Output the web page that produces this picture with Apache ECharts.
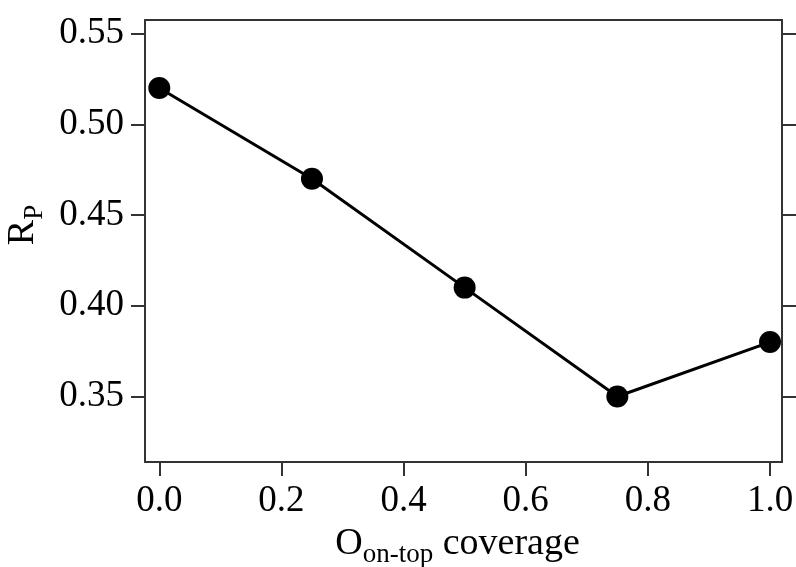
<!DOCTYPE html>
<html>
<head>
<meta charset="utf-8">
<script src="https://cdn.jsdelivr.net/npm/echarts@6/dist/echarts.min.js"></script>
<style>
  html, body { margin: 0; padding: 0; background: #fff; }
  #chart { width: 796px; height: 567px; }
</style>
</head>
<body>
<div id="chart"></div>
<script>
// O on-top coverage vs R_P
const coverage = [0.0, 0.25, 0.5, 0.75, 1.0];
const rpValues = [0.52, 0.47, 0.41, 0.35, 0.38];
const xTicks = [0.0, 0.2, 0.4, 0.6, 0.8, 1.0];
const yTicks = [0.35, 0.40, 0.45, 0.50, 0.55];

const FONT = '"Liberation Serif", "Times New Roman", serif';
const AXIS_COLOR = '#333';

const chart = echarts.init(document.getElementById('chart'));

const frameAxis = {
  axisLine: { show: true, onZero: false, lineStyle: { color: AXIS_COLOR, width: 2 } },
  splitLine: { show: false }
};

const nameRich = {
  m: { fontFamily: FONT, fontSize: 38, color: '#000', verticalAlign: 'bottom', lineHeight: 44, padding: [0, 0, 6, 0] },
  s: { fontFamily: FONT, fontSize: 27, color: '#000', verticalAlign: 'bottom', lineHeight: 30 }
};

chart.setOption({
  animation: false,
  backgroundColor: '#fff',
  grid: { left: 145, right: 14, top: 20, bottom: 105, containLabel: false, outerBoundsMode: 'none' },
  xAxis: [
    {
      type: 'value',
      min: -0.0234,
      max: 1.0196,
      position: 'bottom',
      ...frameAxis,
      axisTick: {
        show: true, inside: false, length: 14,
        customValues: xTicks,
        lineStyle: { color: AXIS_COLOR, width: 2 }
      },
      axisLabel: {
        customValues: xTicks,
        margin: 21,
        color: '#000',
        fontFamily: FONT,
        fontSize: 37,
        formatter: v => v.toFixed(1)
      },
      name: '{m|O}{s|on-top}{m| coverage}',
      nameLocation: 'middle',
      nameGap: 57,
      nameTextStyle: { rich: nameRich, padding: [0, 12, 0, 0] }
    },
    {
      type: 'value',
      min: -0.0234,
      max: 1.0196,
      position: 'top',
      ...frameAxis,
      axisTick: { show: false },
      axisLabel: { show: false }
    }
  ],
  yAxis: [
    {
      type: 'value',
      min: 0.31391,
      max: 0.55744,
      position: 'left',
      ...frameAxis,
      axisTick: {
        show: true, inside: false, length: 14,
        customValues: yTicks,
        lineStyle: { color: AXIS_COLOR, width: 2 }
      },
      axisLabel: {
        customValues: yTicks,
        margin: 21,
        color: '#000',
        fontFamily: FONT,
        fontSize: 37,
        formatter: v => v.toFixed(2)
      },
      name: '{m|R}{s|P}',
      nameLocation: 'middle',
      nameRotate: 90,
      nameGap: 93,
      nameTextStyle: { rich: nameRich, padding: [0, 0, 0, 32] }
    },
    {
      type: 'value',
      min: 0.31391,
      max: 0.55744,
      position: 'right',
      ...frameAxis,
      axisTick: {
        show: true, inside: false, length: 14,
        customValues: yTicks,
        lineStyle: { color: AXIS_COLOR, width: 2 }
      },
      axisLabel: { show: false }
    }
  ],
  series: [
    {
      type: 'line',
      data: coverage.map((x, i) => [x, rpValues[i]]),
      symbol: 'circle',
      symbolSize: 22,
      lineStyle: { color: '#000', width: 3 },
      itemStyle: { color: '#000' },
      clip: false
    }
  ]
});
</script>
</body>
</html>
